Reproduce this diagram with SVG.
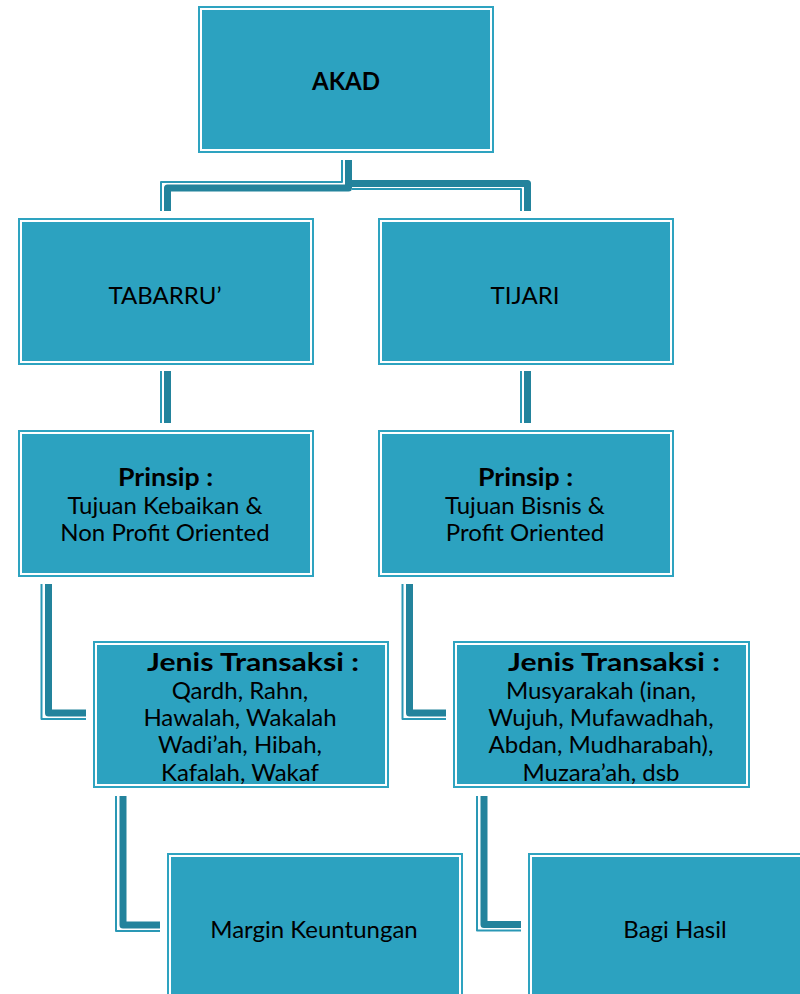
<svg xmlns="http://www.w3.org/2000/svg" width="800" height="994" viewBox="0 0 800 994">
<style>
.frame{fill:none;stroke:#2ea3c0;stroke-width:2}
.fill{fill:#2ca2c0}
.thick{fill:none;stroke:#23839c;stroke-width:7;stroke-linejoin:round}
.thin{fill:none;stroke:#2a98b5;stroke-width:2;stroke-linejoin:round}
text{font-family:Lato,"DejaVu Sans",sans-serif;font-size:24px;fill:#000;text-anchor:middle;dominant-baseline:central}
.b{font-weight:bold}
</style>
<rect width="800" height="994" fill="#fff"/>
<g id="connectors">
<path class="thick" d="M348.5,160 V188 H167.5 V211"/>
<path class="thick" d="M348.5,183.5 H527.5 V211"/>
<path class="thin" d="M342,160 V182 H161 V211"/>
<path class="thin" d="M352,189 H521 V211"/>
<path class="thin" d="M161,371 V423"/>
<path class="thick" d="M167.5,371 V423"/>
<path class="thin" d="M521,371 V423"/>
<path class="thick" d="M527.5,371 V423"/>
<path class="thin" d="M41.5,584 V719 H86"/>
<path class="thick" d="M48.5,584 V713 H86"/>
<path class="thin" d="M402.5,584 V719 H446"/>
<path class="thick" d="M409.5,584 V713 H446"/>
<path class="thin" d="M116,796 V931 H160"/>
<path class="thick" d="M123,796 V925 H160"/>
<path class="thin" d="M477,796 V930.5 H521"/>
<path class="thick" d="M484,796 V924.5 H521"/>
</g>
<g id="akad">
<rect class="frame" x="199" y="7" width="294" height="145"/>
<rect class="fill" x="202" y="10" width="288" height="139"/>
<text class="b" x="346" y="80" font-size="22">AKAD</text>
</g>
<g id="tabarru">
<rect class="frame" x="19" y="219" width="294" height="145"/>
<rect class="fill" x="22" y="222" width="288" height="139"/>
<text x="165" y="294">TABARRU’</text>
</g>
<g id="tijari">
<rect class="frame" x="379" y="219" width="294" height="145"/>
<rect class="fill" x="382" y="222" width="288" height="139"/>
<text x="525" y="294">TIJARI</text>
</g>
<g id="prinsip-tabarru">
<rect class="frame" x="19" y="431" width="294" height="145"/>
<rect class="fill" x="22" y="434" width="288" height="139"/>
<text class="b" x="165.5" y="476" textLength="95" lengthAdjust="spacingAndGlyphs">Prinsip :</text>
<text x="165" y="504">Tujuan Kebaikan &amp;</text>
<text x="165" y="531">Non Profit Oriented</text>
</g>
<g id="prinsip-tijari">
<rect class="frame" x="379" y="431" width="294" height="145"/>
<rect class="fill" x="382" y="434" width="288" height="139"/>
<text class="b" x="525.5" y="476" textLength="95" lengthAdjust="spacingAndGlyphs">Prinsip :</text>
<text x="525" y="504">Tujuan Bisnis &amp;</text>
<text x="525" y="531">Profit Oriented</text>
</g>
<g id="jenis-tabarru">
<rect class="frame" x="94" y="642" width="294" height="145"/>
<rect class="fill" x="97" y="645" width="288" height="139"/>
<text class="b" x="253" y="661" textLength="212" lengthAdjust="spacingAndGlyphs">Jenis Transaksi :</text>
<text x="240" y="689">Qardh, Rahn,</text>
<text x="240" y="716">Hawalah, Wakalah</text>
<text x="240" y="743">Wadi’ah, Hibah,</text>
<text x="240" y="771">Kafalah, Wakaf</text>
</g>
<g id="jenis-tijari">
<rect class="frame" x="454" y="642" width="295" height="145"/>
<rect class="fill" x="457" y="645" width="289" height="139"/>
<text class="b" x="614" y="661" textLength="212" lengthAdjust="spacingAndGlyphs">Jenis Transaksi :</text>
<text x="601" y="689">Musyarakah (inan,</text>
<text x="601" y="716">Wujuh, Mufawadhah,</text>
<text x="601" y="743">Abdan, Mudharabah),</text>
<text x="601" y="771">Muzara’ah, dsb</text>
</g>
<g id="margin">
<rect class="frame" x="168" y="854" width="294" height="150"/>
<rect class="fill" x="171" y="857" width="288" height="150"/>
<text x="314" y="928">Margin Keuntungan</text>
</g>
<g id="bagi-hasil">
<rect class="frame" x="529" y="854" width="294" height="150"/>
<rect class="fill" x="532" y="857" width="288" height="150"/>
<text x="675" y="928">Bagi Hasil</text>
</g>
</svg>
